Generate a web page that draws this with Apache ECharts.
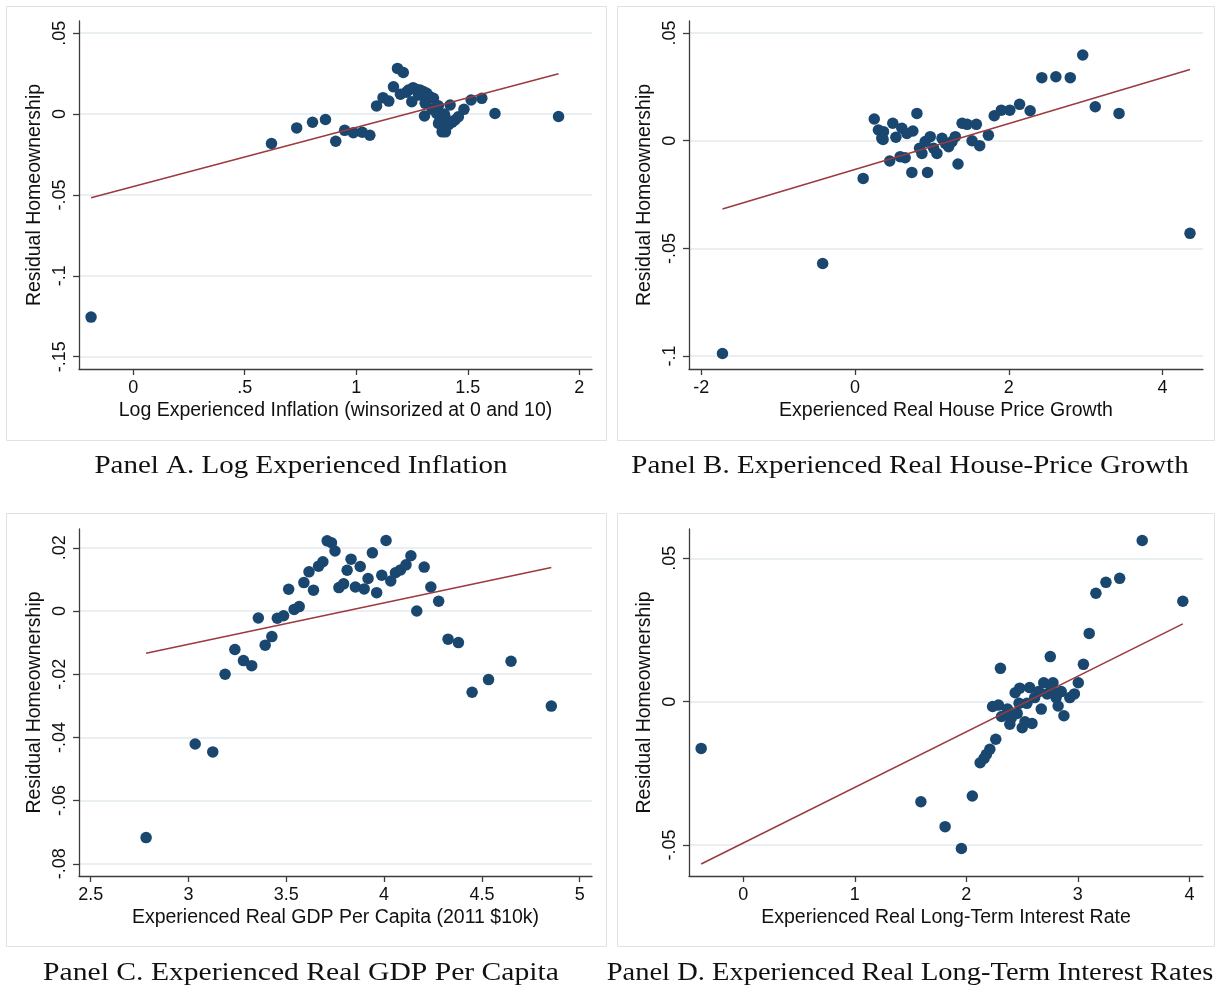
<!DOCTYPE html>
<html><head><meta charset="utf-8">
<script src="https://cdn.jsdelivr.net/npm/echarts@6/dist/echarts.min.js"></script>
<style>html,body{margin:0;padding:0;background:#fff}#c{width:1219px;height:988px}</style>
</head><body><div id="c"></div>
<script>
// ---------------- DATA ----------------
const yTitle = 'Residual Homeownership';

// Panel A
const panelA_points = [[-0.189,-0.1255],[0.620,-0.0182],[0.733,-0.0086],[0.804,-0.0051],[0.862,-0.0034],[0.908,-0.0168],[0.948,-0.0101],[0.987,-0.0115],[1.027,-0.0113],[1.061,-0.0131],[1.091,0.0050],[1.120,0.0101],[1.146,0.0080],[1.167,0.0168],[1.185,0.0282],[1.211,0.0257],[1.198,0.0122],[1.225,0.0135],[1.234,0.0148],[1.255,0.0163],[1.270,0.0152],[1.286,0.0148],[1.249,0.0076],[1.279,0.0117],[1.300,0.0140],[1.316,0.0128],[1.331,0.0107],[1.346,0.0097],[1.309,0.0066],[1.368,0.0051],[1.421,0.0056],[1.306,-0.0012],[1.361,0.0004],[1.376,-0.0037],[1.398,-0.0017],[1.369,-0.0058],[1.385,-0.0110],[1.400,-0.0110],[1.413,-0.0068],[1.443,-0.0037],[1.458,-0.0017],[1.483,0.0029],[1.515,0.0087],[1.563,0.0097],[1.622,0.0003],[1.907,-0.0015],[1.340,0.0030],[1.395,0.0000],[1.430,-0.0050]];
const panelA_fit = [[-0.189,-0.0517],[1.907,0.0249]];
const panelA_xTicks = [0,0.5,1,1.5,2];
const panelA_xLabels = ['0','.5','1','1.5','2'];
const panelA_yTicks = [0.05,0,-0.05,-0.1,-0.15];
const panelA_yLabels = ['.05','0','-.05','-.1','-.15'];
const panelA_xTitle = 'Log Experienced Inflation (winsorized at 0 and 10)';
const panelA_caption = 'Panel A. Log Experienced Inflation';

// Panel B
const panelB_points = [[-1.724,-0.0988],[-0.421,-0.0570],[0.106,-0.0175],[0.250,0.0101],[0.304,0.0050],[0.348,0.0011],[0.370,0.0042],[0.365,0.0006],[0.451,-0.0094],[0.491,0.0081],[0.531,0.0016],[0.587,-0.0074],[0.609,0.0058],[0.652,-0.0079],[0.674,0.0034],[0.739,-0.0147],[0.752,0.0045],[0.805,0.0127],[0.839,-0.0035],[0.870,-0.0059],[0.913,-0.0004],[0.943,-0.0147],[0.978,0.0019],[1.022,-0.0035],[1.065,-0.0059],[1.131,0.0011],[1.174,-0.0012],[1.217,-0.0028],[1.261,-0.0004],[1.304,0.0019],[1.339,-0.0108],[1.392,0.0081],[1.457,0.0076],[1.522,0.0000],[1.578,0.0076],[1.621,-0.0023],[1.734,0.0026],[1.810,0.0116],[1.902,0.0142],[2.013,0.0142],[2.140,0.0169],[2.277,0.0139],[2.429,0.0293],[2.612,0.0297],[2.799,0.0293],[2.961,0.0398],[3.124,0.0158],[3.433,0.0127],[4.356,-0.0430]];
const panelB_fit = [[-1.724,-0.0317],[4.356,0.0331]];
const panelB_xTicks = [-2,0,2,4];
const panelB_xLabels = ['-2','0','2','4'];
const panelB_yTicks = [0.05,0,-0.05,-0.1];
const panelB_yLabels = ['.05','0','-.05','-.1'];
const panelB_xTitle = 'Experienced Real House Price Growth';
const panelB_caption = 'Panel B. Experienced Real House-Price Growth';

// Panel C
const panelC_points = [[2.783,-0.0717],[3.034,-0.0421],[3.124,-0.0446],[3.187,-0.0200],[3.237,-0.0122],[3.281,-0.0157],[3.323,-0.0173],[3.357,-0.0022],[3.392,-0.0108],[3.426,-0.0081],[3.454,-0.0023],[3.486,-0.0015],[3.512,0.0069],[3.540,0.0005],[3.566,0.0014],[3.590,0.0090],[3.616,0.0124],[3.639,0.0066],[3.665,0.0142],[3.687,0.0156],[3.709,0.0222],[3.731,0.0216],[3.749,0.0190],[3.769,0.0074],[3.793,0.0086],[3.811,0.0129],[3.831,0.0164],[3.853,0.0076],[3.878,0.0141],[3.898,0.0070],[3.918,0.0103],[3.940,0.0184],[3.962,0.0058],[3.988,0.0113],[4.010,0.0223],[4.034,0.0095],[4.058,0.0121],[4.084,0.0130],[4.112,0.0146],[4.137,0.0175],[4.167,0.0000],[4.205,0.0139],[4.239,0.0076],[4.279,0.0031],[4.327,-0.0089],[4.380,-0.0100],[4.450,-0.0257],[4.534,-0.0217],[4.649,-0.0159],[4.855,-0.0301]];
const panelC_fit = [[2.783,-0.0134],[4.855,0.0138]];
const panelC_xTicks = [2.5,3,3.5,4,4.5,5];
const panelC_xLabels = ['2.5','3','3.5','4','4.5','5'];
const panelC_yTicks = [0.02,0,-0.02,-0.04,-0.06,-0.08];
const panelC_yLabels = ['.02','0','-.02','-.04','-.06','-.08'];
const panelC_xTitle = 'Experienced Real GDP Per Capita (2011 $10k)';
const panelC_caption = 'Panel C. Experienced Real GDP Per Capita';

// Panel D
const panelD_points = [[-0.377,-0.0163],[1.593,-0.0349],[1.810,-0.0436],[1.956,-0.0512],[2.054,-0.0329],[2.124,-0.0213],[2.159,-0.0198],[2.180,-0.0184],[2.211,-0.0166],[2.264,-0.0131],[2.306,0.0116],[2.236,-0.0017],[2.288,-0.0012],[2.316,-0.0052],[2.369,-0.0026],[2.403,-0.0058],[2.438,0.0031],[2.456,-0.0041],[2.473,-0.0006],[2.501,-0.0091],[2.526,-0.0070],[2.543,-0.0006],[2.568,0.0049],[2.589,-0.0076],[2.613,0.0014],[2.648,0.0035],[2.672,-0.0026],[2.694,0.0066],[2.725,0.0027],[2.753,0.0157],[2.777,0.0066],[2.805,0.0014],[2.823,-0.0015],[2.851,0.0035],[2.875,-0.0049],[2.928,0.0014],[2.969,0.0027],[3.004,0.0066],[3.050,0.0130],[3.102,0.0238],[3.162,0.0378],[3.252,0.0416],[3.375,0.0430],[3.577,0.0562],[3.941,0.0350],[2.479,0.0047],[2.763,0.0042],[2.390,-0.0079]];
const panelD_fit = [[-0.377,-0.0566],[3.941,0.0271]];
const panelD_xTicks = [0,1,2,3,4];
const panelD_xLabels = ['0','1','2','3','4'];
const panelD_yTicks = [0.05,0,-0.05];
const panelD_yLabels = ['.05','0','-.05'];
const panelD_xTitle = 'Experienced Real Long-Term Interest Rate';
const panelD_caption = 'Panel D. Experienced Real Long-Term Interest Rates';

// ---------------- LAYOUT ----------------
const panels = [
  {pts:panelA_points, fit:panelA_fit, xt:panelA_xTicks, xl:panelA_xLabels, yt:panelA_yTicks, yl:panelA_yLabels, xTitle:panelA_xTitle, cap:panelA_caption,
   grid:{left:79,top:21,width:513,height:348}, xr:[-0.243,2.057], yr:[-0.1576,0.0575], frame:[6,6,600,434], capXY:[301,466], capScale:1.16},
  {pts:panelB_points, fit:panelB_fit, xt:panelB_xTicks, xl:panelB_xLabels, yt:panelB_yTicks, yl:panelB_yLabels, xTitle:panelB_xTitle, cap:panelB_caption,
   grid:{left:689,top:21,width:514,height:348}, xr:[-2.159,4.525], yr:[-0.1060,0.0556], frame:[617,6,597,434], capXY:[910,466], capScale:1.16},
  {pts:panelC_points, fit:panelC_fit, xt:panelC_xTicks, xl:panelC_xLabels, yt:panelC_yTicks, yl:panelC_yLabels, xTitle:panelC_xTitle, cap:panelC_caption,
   grid:{left:79,top:529,width:513,height:347}, xr:[2.440,5.063], yr:[-0.08386,0.02595], frame:[6,513,600,433], capXY:[301,973], capScale:1.185},
  {pts:panelD_points, fit:panelD_fit, xt:panelD_xTicks, xl:panelD_xLabels, yt:panelD_yTicks, yl:panelD_yLabels, xTitle:panelD_xTitle, cap:panelD_caption,
   grid:{left:689,top:529,width:514,height:347}, xr:[-0.486,4.122], yr:[-0.0608,0.0602], frame:[617,513,597,433], capXY:[910,973], capScale:1.14}
];

const AX = '#3c3c3c', GRIDC = '#e3eaed', DOT = '#1a476f', FIT = '#9b3a3f', TXT = '#111';
const SANS = 'Liberation Sans', SERIF = 'Liberation Serif';

function lookup(ticks, labels){
  return function(v){ for (let i=0;i<ticks.length;i++){ if (Math.abs(ticks[i]-v)<1e-9) return labels[i]; } return ''; };
}

const grid=[], xAxis=[], yAxis=[], series=[], graphic=[];
panels.forEach((p,i)=>{
  grid.push(Object.assign({containLabel:false}, p.grid));
  xAxis.push({type:'value', gridIndex:i, min:p.xr[0], max:p.xr[1],
    axisLine:{show:true, onZero:false, lineStyle:{color:AX, width:1.3}},
    axisTick:{show:true, inside:false, length:6, customValues:p.xt, lineStyle:{color:AX, width:1.3}},
    axisLabel:{show:true, customValues:p.xt, formatter:lookup(p.xt,p.xl), margin:10, fontFamily:SANS, fontSize:18, color:TXT},
    splitLine:{show:false},
    name:p.xTitle, nameLocation:'middle', nameGap:32, nameTextStyle:{fontFamily:SANS, fontSize:19.5, color:TXT}});
  yAxis.push({type:'value', gridIndex:i, min:p.yr[0], max:p.yr[1],
    axisLine:{show:true, onZero:false, lineStyle:{color:AX, width:1.3}},
    axisTick:{show:true, inside:false, length:6, customValues:p.yt, lineStyle:{color:AX, width:1.3}},
    axisLabel:{show:true, rotate:90, customValues:p.yt, formatter:lookup(p.yt,p.yl), margin:10, fontFamily:SANS, fontSize:18, color:TXT},
    splitLine:{show:true, lineStyle:{color:GRIDC, width:1.6}},
    name:yTitle, nameLocation:'middle', nameRotate:90, nameGap:34, nameTextStyle:{fontFamily:SANS, fontSize:19.5, color:TXT}});
  series.push({type:'scatter', xAxisIndex:i, yAxisIndex:i, data:p.pts, symbol:'circle', symbolSize:11.5,
    itemStyle:{color:DOT, opacity:1}, z:3, silent:true});
  series.push({type:'line', xAxisIndex:i, yAxisIndex:i, data:p.fit, symbol:'none', showSymbol:false,
    lineStyle:{color:FIT, width:1.5}, z:4, silent:true, animation:false});
  graphic.push({type:'rect', shape:{x:p.frame[0]+0.5, y:p.frame[1]+0.5, width:p.frame[2], height:p.frame[3]},
    style:{fill:'none', stroke:'#dde3e7', lineWidth:1}, z:0, silent:true});
  graphic.push({type:'text', x:p.capXY[0], y:p.capXY[1], scaleX:p.capScale, scaleY:1,
    style:{text:p.cap, fontFamily:SERIF, fontSize:25, fill:TXT, align:'center', verticalAlign:'middle'}, silent:true});
});

const chart = echarts.init(document.getElementById('c'), null, {renderer:'canvas'});
chart.setOption({animation:false, backgroundColor:'#fff', grid, xAxis, yAxis, series, graphic});
</script></body></html>
